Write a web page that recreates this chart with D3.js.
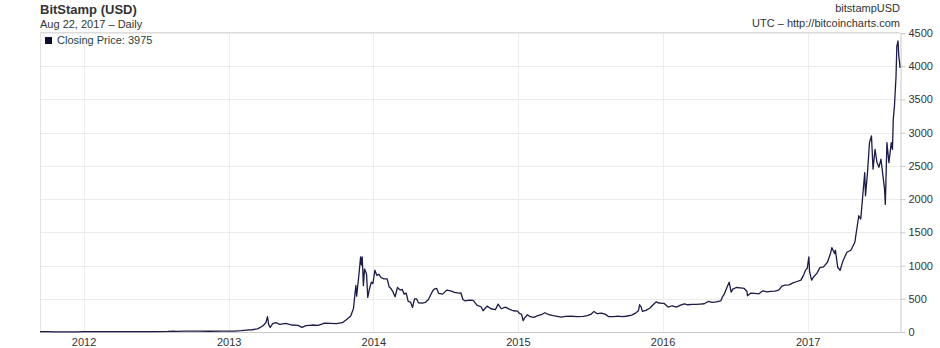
<html>
<head>
<script src="https://d3js.org/d3.v7.min.js"></script>
<style>
  body { margin: 0; background: #fff; }
  text { font-family: "Liberation Sans", Arial, sans-serif; }
</style>
</head>
<body>
<svg id="svgMain" width="940" height="348"></svg>
<script>

// closing prices (date, USD)
const prices2011 = [
    ["2011-09-13", 5.9], ["2011-10-01", 5.0], ["2011-10-20", 2.5], ["2011-11-18", 2.2],
    ["2011-12-15", 3.2], ["2011-12-31", 4.7]
];
const prices2012 = [
    ["2012-01-10", 6.9], ["2012-02-01", 6.0], ["2012-03-01", 4.9], ["2012-04-01", 4.9],
    ["2012-05-01", 5.0], ["2012-06-01", 5.3], ["2012-07-01", 6.7], ["2012-08-01", 9.3],
    ["2012-08-16", 13.5], ["2012-08-20", 8], ["2012-09-15", 11.8], ["2012-10-15", 11.8],
    ["2012-11-15", 11.0], ["2012-12-15", 13.5]
];
const prices2013 = [
    ["2013-01-15", 14.5], ["2013-02-01", 20], ["2013-02-15", 27], ["2013-03-01", 34],
    ["2013-03-15", 47], ["2013-03-28", 90], ["2013-04-05", 140], ["2013-04-09", 230],
    ["2013-04-12", 110], ["2013-04-16", 68], ["2013-04-22", 125], ["2013-04-30", 140],
    ["2013-05-10", 115], ["2013-05-25", 130], ["2013-06-10", 105], ["2013-06-25", 100],
    ["2013-07-05", 70], ["2013-07-15", 95], ["2013-07-31", 105], ["2013-08-15", 100],
    ["2013-08-31", 135], ["2013-09-15", 130], ["2013-09-30", 125], ["2013-10-15", 140],
    ["2013-10-25", 185], ["2013-11-05", 240], ["2013-11-12", 355], ["2013-11-18", 700],
    ["2013-11-20", 540], ["2013-11-25", 820], ["2013-11-30", 1130], ["2013-12-02", 1010],
    ["2013-12-04", 1130], ["2013-12-07", 700], ["2013-12-10", 950], ["2013-12-15", 870],
    ["2013-12-18", 520], ["2013-12-22", 640], ["2013-12-27", 750], ["2013-12-31", 730]
];
const prices2014 = [
    ["2014-01-05", 930], ["2014-01-10", 850], ["2014-01-15", 870], ["2014-01-20", 820],
    ["2014-01-28", 800], ["2014-02-05", 800], ["2014-02-10", 680], ["2014-02-15", 650],
    ["2014-02-20", 600], ["2014-02-25", 530], ["2014-03-03", 670], ["2014-03-10", 630],
    ["2014-03-15", 640], ["2014-03-20", 570], ["2014-03-25", 585], ["2014-03-30", 460],
    ["2014-04-05", 450], ["2014-04-10", 370], ["2014-04-15", 500], ["2014-04-20", 500],
    ["2014-04-25", 440], ["2014-05-05", 435], ["2014-05-12", 445], ["2014-05-20", 490],
    ["2014-05-31", 620], ["2014-06-05", 650], ["2014-06-10", 655], ["2014-06-15", 580],
    ["2014-06-25", 570], ["2014-07-05", 630], ["2014-07-15", 620], ["2014-07-25", 595],
    ["2014-08-05", 585], ["2014-08-10", 590], ["2014-08-15", 490], ["2014-08-20", 470],
    ["2014-08-31", 480], ["2014-09-10", 475], ["2014-09-20", 400], ["2014-09-30", 380],
    ["2014-10-05", 320], ["2014-10-15", 390], ["2014-10-25", 350], ["2014-11-05", 335],
    ["2014-11-12", 420], ["2014-11-20", 350], ["2014-11-30", 375], ["2014-12-10", 345],
    ["2014-12-20", 320], ["2014-12-31", 315]
];
const prices2015 = [
    ["2015-01-05", 275], ["2015-01-10", 270], ["2015-01-14", 170], ["2015-01-17", 205],
    ["2015-01-25", 260], ["2015-02-01", 230], ["2015-02-10", 220], ["2015-02-20", 245],
    ["2015-03-01", 260], ["2015-03-10", 290], ["2015-03-20", 260], ["2015-03-31", 245],
    ["2015-04-10", 235], ["2015-04-20", 225], ["2015-05-01", 235], ["2015-05-15", 237],
    ["2015-05-31", 230], ["2015-06-15", 235], ["2015-06-25", 245], ["2015-07-05", 270],
    ["2015-07-12", 310], ["2015-07-20", 275], ["2015-07-31", 285], ["2015-08-10", 265],
    ["2015-08-18", 230], ["2015-08-31", 230], ["2015-09-10", 240], ["2015-09-20", 230],
    ["2015-10-01", 237], ["2015-10-15", 255], ["2015-10-25", 285], ["2015-11-01", 320],
    ["2015-11-04", 410], ["2015-11-08", 375], ["2015-11-11", 310], ["2015-11-20", 325],
    ["2015-12-01", 365], ["2015-12-08", 410], ["2015-12-16", 455], ["2015-12-20", 440],
    ["2015-12-31", 430]
];
const prices2016 = [
    ["2016-01-05", 430], ["2016-01-15", 375], ["2016-01-25", 395], ["2016-02-05", 375],
    ["2016-02-15", 405], ["2016-02-25", 425], ["2016-03-05", 410], ["2016-03-15", 415],
    ["2016-03-25", 415], ["2016-04-05", 420], ["2016-04-15", 425], ["2016-04-25", 460],
    ["2016-05-05", 445], ["2016-05-15", 455], ["2016-05-27", 470], ["2016-05-31", 530],
    ["2016-06-05", 575], ["2016-06-12", 680], ["2016-06-17", 750], ["2016-06-22", 600],
    ["2016-06-26", 645], ["2016-07-05", 670], ["2016-07-15", 665], ["2016-07-25", 655],
    ["2016-08-01", 610], ["2016-08-02", 545], ["2016-08-10", 585], ["2016-08-20", 580],
    ["2016-08-31", 575], ["2016-09-10", 620], ["2016-09-20", 605], ["2016-09-30", 610],
    ["2016-10-10", 615], ["2016-10-20", 630], ["2016-10-28", 690], ["2016-11-05", 705],
    ["2016-11-15", 710], ["2016-11-25", 740], ["2016-12-05", 760], ["2016-12-15", 780],
    ["2016-12-22", 860], ["2016-12-27", 935], ["2016-12-31", 960]
];
const prices2017 = [
    ["2017-01-04", 1130], ["2017-01-06", 900], ["2017-01-11", 780], ["2017-01-15", 820],
    ["2017-01-25", 890], ["2017-02-01", 970], ["2017-02-10", 980], ["2017-02-20", 1050],
    ["2017-02-28", 1190], ["2017-03-03", 1270], ["2017-03-10", 1180], ["2017-03-12", 1230],
    ["2017-03-18", 970], ["2017-03-24", 930], ["2017-03-31", 1070], ["2017-04-10", 1200],
    ["2017-04-20", 1230], ["2017-04-30", 1350], ["2017-05-05", 1550], ["2017-05-10", 1750],
    ["2017-05-15", 1700], ["2017-05-20", 2050], ["2017-05-25", 2400], ["2017-05-27", 2050],
    ["2017-06-01", 2400], ["2017-06-06", 2850], ["2017-06-11", 2950], ["2017-06-15", 2450],
    ["2017-06-20", 2750], ["2017-06-25", 2550], ["2017-06-30", 2480], ["2017-07-05", 2600],
    ["2017-07-10", 2350], ["2017-07-14", 2150], ["2017-07-16", 1920], ["2017-07-20", 2850],
    ["2017-07-25", 2550], ["2017-07-31", 2850], ["2017-08-03", 2750], ["2017-08-05", 3200],
    ["2017-08-08", 3400], ["2017-08-12", 3850], ["2017-08-14", 4300], ["2017-08-17", 4380],
    ["2017-08-19", 4150], ["2017-08-21", 4050], ["2017-08-22", 3975]
];

const yTicks = [0, 500, 1000, 1500, 2000, 2500, 3000, 3500, 4000, 4500];
const yearTicks = ["2012", "2013", "2014", "2015", "2016", "2017"];

const parseDate = d3.timeParse("%Y-%m-%d");
const data = [].concat(prices2011, prices2012, prices2013, prices2014, prices2015, prices2016, prices2017)
    .map(d => ({ date: parseDate(d[0]), close: d[1] }));

const svg = d3.select("#svgMain");

const plotLeft = 40, plotRight = 900, plotTop = 33, plotBottom = 332;

const x = d3.scaleTime()
    .domain([parseDate("2011-09-13"), parseDate("2017-08-22")])
    .range([plotLeft, plotRight]);

const y = d3.scaleLinear()
    .domain([0, 4500])
    .range([plotBottom, plotTop]);

// grid
svg.append("g")
    .selectAll("line")
    .data(yTicks)
    .join("line")
    .attr("x1", plotLeft).attr("x2", plotRight)
    .attr("y1", d => Math.round(y(d)) + 0.5).attr("y2", d => Math.round(y(d)) + 0.5)
    .attr("stroke", "#ececec");

svg.append("g")
    .selectAll("line")
    .data(yearTicks)
    .join("line")
    .attr("x1", d => Math.round(x(parseDate(d + "-01-01"))) + 0.5)
    .attr("x2", d => Math.round(x(parseDate(d + "-01-01"))) + 0.5)
    .attr("y1", plotTop).attr("y2", plotBottom)
    .attr("stroke", "#ececec");

// frame
svg.append("line")
    .attr("x1", plotLeft + 0.5).attr("x2", plotLeft + 0.5)
    .attr("y1", plotTop).attr("y2", plotBottom)
    .attr("stroke", "#e2e2e2");
svg.append("line")
    .attr("x1", plotLeft).attr("x2", plotRight)
    .attr("y1", plotTop - 0.5).attr("y2", plotTop - 0.5)
    .attr("stroke", "#dcdcdc");

// y axis on the right
const yAxis = d3.axisRight(y)
    .tickValues(yTicks)
    .tickFormat(d3.format("d"))
    .tickSize(5)
    .tickPadding(3);

const gy = svg.append("g")
    .attr("transform", "translate(" + (plotRight + 0.5) + ",0)")
    .call(yAxis);
gy.select(".domain").attr("stroke", "#c8c8c8");
gy.selectAll(".tick line").attr("stroke", "#c8c8c8");
gy.selectAll("text")
    .attr("fill", "#333")
    .style("font-size", "11px")
    .style("font-family", "Liberation Sans, Arial, sans-serif");

// x axis
const xAxis = d3.axisBottom(x)
    .tickValues(yearTicks.map(d => parseDate(d + "-01-01")))
    .tickFormat(d3.timeFormat("%Y"))
    .tickSize(0)
    .tickPadding(6);

const gx = svg.append("g")
    .attr("transform", "translate(0," + (plotBottom + 0.5) + ")")
    .call(xAxis);
gx.select(".domain").attr("stroke", "#c8c8c8").attr("d", "M" + plotLeft + ",0H" + plotRight);
gx.selectAll("text")
    .attr("fill", "#333")
    .style("font-size", "11px")
    .style("font-family", "Liberation Sans, Arial, sans-serif");

// price line
const line = d3.line()
    .x(d => x(d.date))
    .y(d => y(d.close));

svg.append("path")
    .datum(data)
    .attr("fill", "none")
    .attr("stroke", "#1c1b48")
    .attr("stroke-width", 1.3)
    .attr("stroke-linejoin", "round")
    .attr("d", line);

// titles
svg.append("text")
    .attr("x", plotLeft).attr("y", 14)
    .attr("font-size", 13).attr("font-weight", "bold")
    .attr("fill", "#333")
    .text("BitStamp (USD)");

svg.append("text")
    .attr("x", plotLeft).attr("y", 28)
    .attr("font-size", 11).attr("fill", "#333")
    .text("Aug 22, 2017 \u2013 Daily");

svg.append("text")
    .attr("x", plotRight).attr("y", 12)
    .attr("text-anchor", "end")
    .attr("font-size", 11).attr("fill", "#333")
    .text("bitstampUSD");

svg.append("text")
    .attr("x", plotRight).attr("y", 27)
    .attr("text-anchor", "end")
    .attr("font-size", 11).attr("fill", "#333")
    .text("UTC \u2013 http://bitcoincharts.com");

// legend
const last = data[data.length - 1];
svg.append("rect")
    .attr("x", 45).attr("y", 37)
    .attr("width", 7).attr("height", 7)
    .attr("fill", "#0d0d2e");

svg.append("text")
    .attr("x", 57).attr("y", 44)
    .attr("font-size", 11).attr("fill", "#1b4747")
    .text("Closing Price: " + last.close);

</script>
</body>
</html>
